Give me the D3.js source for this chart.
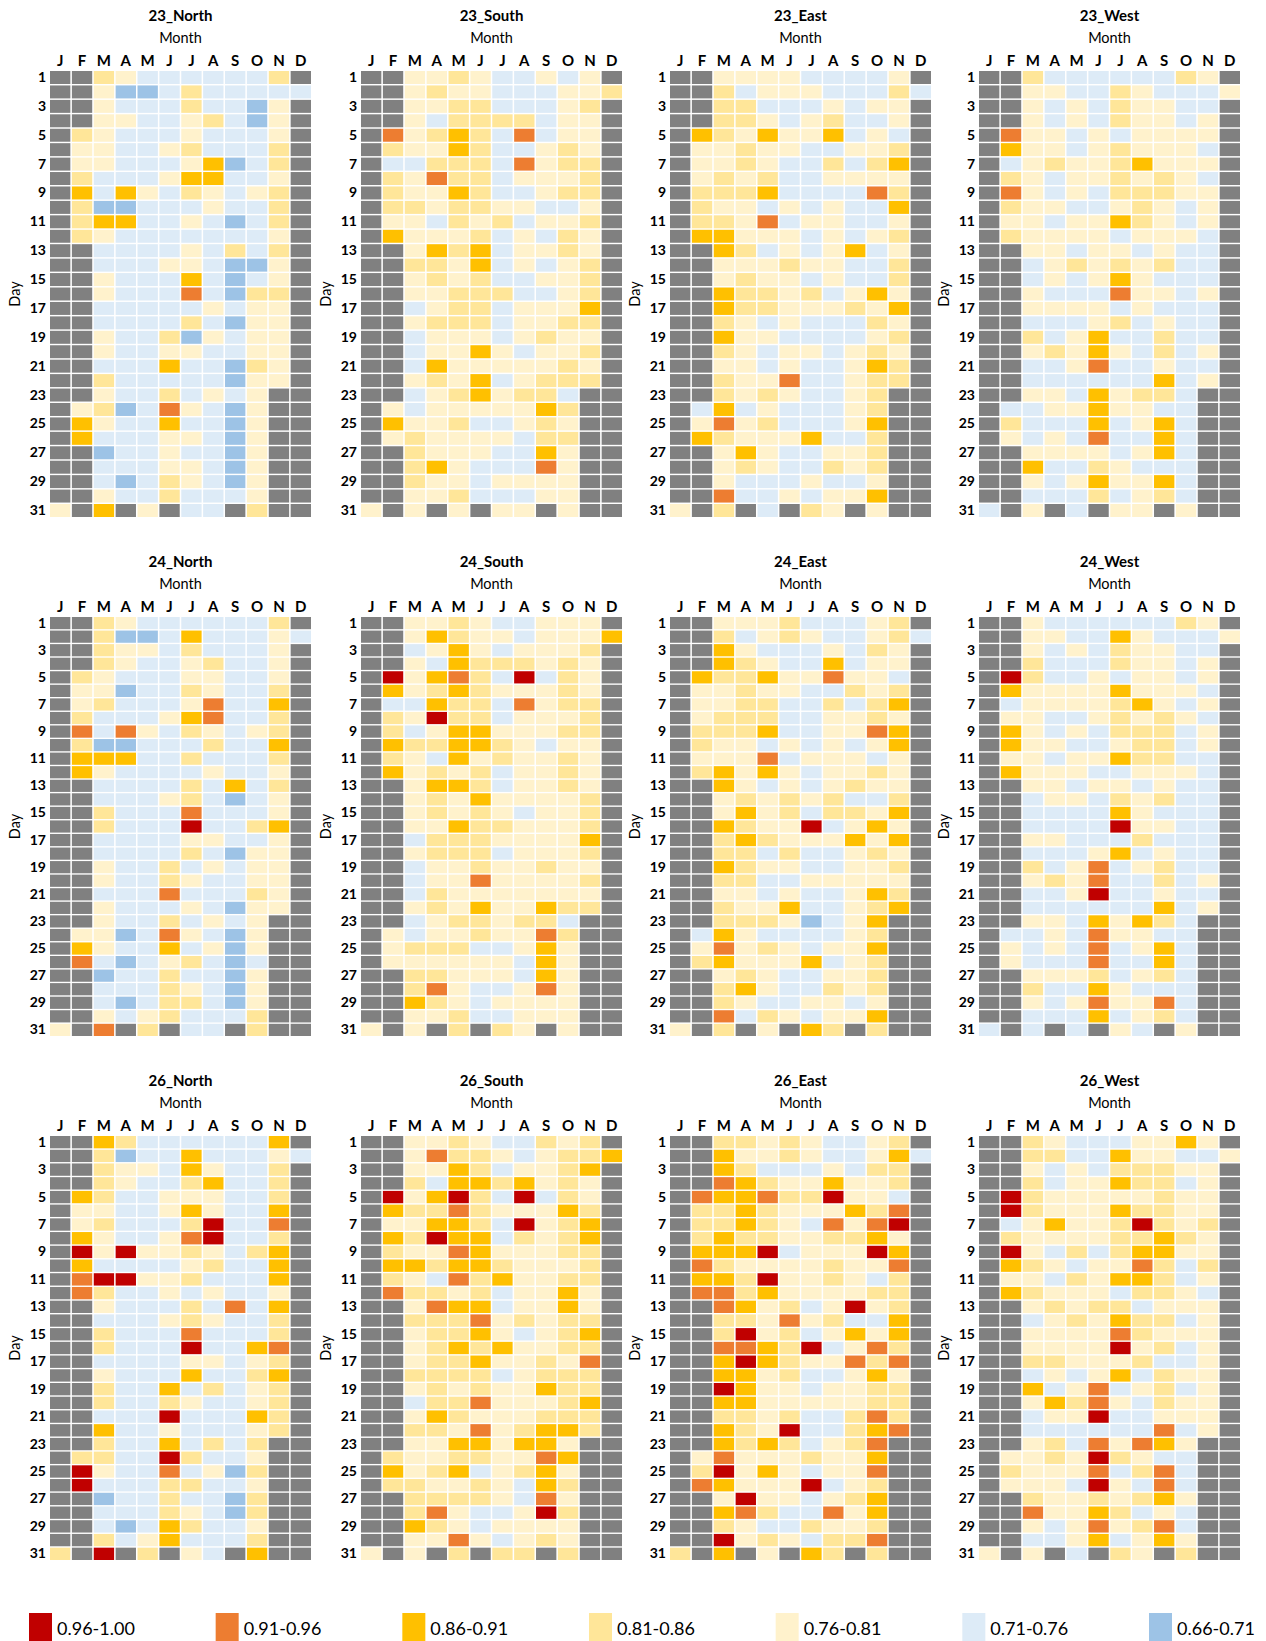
<!DOCTYPE html>
<html>
<head>
<meta charset="utf-8">
<script src="https://cdn.jsdelivr.net/npm/d3@7"></script>
<style>
  body { margin: 0; background: #fff; }
  svg { display: block; font-family: Lato, "Open Sans", sans-serif; }
</style>
</head>
<body>
<script>
// month letters and odd day ticks
const months = ["J", "F", "M", "A", "M", "J", "J", "A", "S", "O", "N", "D"];
const dayTicks = [1, 3, 5, 7, 9, 11, 13, 15, 17, 19, 21, 23, 25, 27, 29, 31];

// legend bins, code 1..7 in the day strings below, 0 = no data
const bins = ["0.96-1.00", "0.91-0.96", "0.86-0.91", "0.81-0.86", "0.76-0.81", "0.71-0.76", "0.66-0.71"];

const panelNames = ["23_North", "23_South", "23_East", "23_West",
                    "24_North", "24_South", "24_East", "24_West",
                    "26_North", "26_South", "26_East", "26_West"];

// one string per day (1..31), one char per month J..D
const north23 = ["004566666640","005776466666","005666466750","005566546750","045666566650","055665466640","055666537640","046665336650","036356456540","047766656640","043366567640","045666666650","006666564640","006665567750","005666367650","005666267440","006666656550","006666467550","005664756550","005665566550","006663667450","004666667550","005664656500","054762567500","035663667500","036665567500","007665667500","006665567500","006764567500","005664666500","503050660400"];
const south23 = ["005545665650","005455666554","005544666540","005644446550","025434626550","045534665450","066444625440","045244655540","045534665440","044544556650","055645465540","035554656450","005343655450","004453656540","005454665540","005544466540","006544655530","005444655440","006555654550","006553565540","006355555450","005453654440","006543544600","056555553400","035546654500","054555564400","004555663500","004356662500","004556555500","005546665500","505050550500"];
const east23 = ["005555666650","004655566646","004466656550","004456546650","034535536560","055455665540","055456646430","054546655550","044436666240","045565656630","044526556650","033555656540","003465653650","005554556640","005455656640","003445465350","003445554530","004565666450","003556666540","004565565450","005565665340","004552665440","004545665400","063656665400","052546665300","034555366400","005356655400","005456645400","005666566500","002665655300","504060450500"];
const west23 = ["004666666450","005566456665","005656455660","005656455650","025565655550","035565455560","065455435550","045655454560","025656444550","045566545650","055655345650","045555655560","005565565660","006545454660","006565356660","005666255650","005555656660","006665465660","004653664660","005453564650","006652665660","006666663650","005563544600","066553556600","046663653600","056562663600","005555653600","003664566600","005653553600","006664654600","605060550500"];
const north24 = ["004566666640","004776366656","004556466650","004566546650","045666556650","055766456640","054666526630","046665326640","026256456540","047766646630","033366466640","035666656650","006666463640","006665467650","004666266650","004666166430","006666556650","006666467550","005664656550","005664566550","006662666450","005666567550","005664656500","055762567500","035663657500","026765467600","007664667500","006664567500","006764467500","005654666400","502040660400"];
const south24 = ["005545665550","005345565553","006535655540","005634445450","015324616450","035434555450","066344625440","045144655540","046533555440","034433456550","045635455450","035454655450","005334655450","005453555540","005454565540","005534455540","006444555530","005444655540","006554554550","006552555540","006455555550","005453553440","006544544600","056554552400","054446653500","055555563500","004455563500","004256652500","003456555500","005546655500","505040450500"];
const east24 = ["005554666540","004654566546","003566656450","003456636550","034435525560","055455664540","055446646430","054446655450","044436655230","045565656530","055526555650","043535655450","003565654550","005454546640","005354644530","003455165350","004345553530","004464665450","003455665540","004466555550","005565665340","004553665430","004445765300","063566665400","052545655300","043555365400","005456655400","004356645400","004566556500","002645655300","504050340400"];
const west24 = ["005666666450","005566356665","005656455660","004666455650","014665655650","035555355560","065555435650","055665454560","035656444650","035566544650","055655344660","035556655560","005565565660","006556454660","006666356660","006666155660","005566646660","006665365660","004652654660","005452664650","006651665660","006666663650","005563534600","066562556600","056562653600","056662663600","005554654600","004663566600","005652552600","006663654600","606060560500"];
const north26 = ["003466666630","004766366656","004556356640","004566436640","034665556640","055665356630","054666416620","035665216640","015155456430","036666546630","021155466630","024665656650","005666462630","006665456640","004666266640","004666166320","006666556540","005666366430","004663646540","004664566540","006661666340","003665666540","004663646400","044661466500","015662657400","016664466500","007664667400","006664567400","006763466500","004653666400","401040560300"];
const south26 = ["005545664540","005244565443","005534655430","004633435450","015314616450","034424555340","055334615430","034133645430","045523555440","033433455540","045624355440","024454655350","005233655350","004442545440","005443565430","005434355440","005443554520","004444654440","005454553440","006442555430","005345554440","004452543340","005533533500","045544552300","035436543500","044554563400","004444562500","004256651400","003456555500","005525654500","505040440400"];
const east26 = ["004454566540","003554566536","003466656440","002345535540","023324415560","044345553420","044345625210","043445544350","033316555130","024555545520","033415545640","022435555440","002354651540","004452546630","004154653530","002234165240","003134552420","003354665350","001355655440","003355555440","004454664240","003451664320","003434654200","052555455300","041535655200","023555165400","005155654300","003246625300","004566455400","001545644200","403050340400"];
const west26 = ["004566655350","004466355665","005656444550","004655344650","014555554550","014555344550","065355414540","045555443450","015646433550","034565524640","055645334650","034555644560","005454465550","006545344650","005555245550","005555154650","004455546650","006565364550","003652654650","005342564550","006551665550","006666662650","005462523500","055451456600","045552642600","055561562600","004554543500","002553465600","005652542600","006653653500","505060450400"];

const panelDays = [north23, south23, east23, west23, north24, south24, east24, west24, north26, south26, east26, west26];

// ---- layout ----
const W = 1266, H = 1641;
const colLefts = [50, 361, 670, 979];
const gridW = 261;
const rowTops = [71, 617, 1136];
const gridHs = [446, 419, 424];

const color = d3.scaleOrdinal()
  .domain(["0", "1", "2", "3", "4", "5", "6", "7"])
  .range(["#808080", "#C00000", "#ED7D31", "#FFC000", "#FFE699", "#FFF2CC", "#DDEBF7", "#9DC3E6"]);

const svg = d3.select("body").append("svg")
  .attr("width", W)
  .attr("height", H);

panelNames.forEach((name, i) => {
  const left = colLefts[i % 4];
  const top = rowTops[Math.floor(i / 4)];
  const gridH = gridHs[Math.floor(i / 4)];

  // flatten the strings into cells
  const cells = [];
  panelDays[i].forEach((row, d) => {
    row.split("").forEach((c, m) => cells.push({ day: d + 1, month: m, code: c }));
  });

  const x = d3.scaleBand().domain(d3.range(12)).range([0, gridW]).paddingInner(0.07);
  const y = d3.scaleBand().domain(d3.range(1, 32)).range([0, gridH]).paddingInner(0.1);

  const g = svg.append("g").attr("transform", `translate(${left},${top})`);

  g.selectAll("rect")
    .data(cells)
    .join("rect")
      .attr("x", d => x(d.month))
      .attr("y", d => y(d.day))
      .attr("width", x.bandwidth())
      .attr("height", y.bandwidth())
      .attr("fill", d => color(d.code));

  // month letters
  const xAxis = g.append("g")
    .call(d3.axisTop(x).tickSize(0).tickPadding(5).tickFormat(m => months[m]));
  xAxis.select(".domain").remove();
  xAxis.selectAll("text")
    .attr("font-family", "Lato, 'Open Sans', sans-serif")
    .attr("font-size", 15)
    .attr("font-weight", "bold")
    .attr("fill", "#000");

  // day labels
  const yAxis = g.append("g")
    .call(d3.axisLeft(y).tickValues(dayTicks).tickSize(0).tickPadding(4));
  yAxis.select(".domain").remove();
  yAxis.selectAll("text")
    .attr("font-family", "Lato, 'Open Sans', sans-serif")
    .attr("font-size", 14)
    .attr("font-weight", "bold")
    .attr("fill", "#000");

  // titles
  g.append("text")
    .attr("x", gridW / 2)
    .attr("y", -50)
    .attr("text-anchor", "middle")
    .attr("font-size", 15)
    .attr("font-weight", "bold")
    .text(name);

  g.append("text")
    .attr("x", gridW / 2)
    .attr("y", -28)
    .attr("text-anchor", "middle")
    .attr("font-size", 14.5)
    .text("Month");

  g.append("text")
    .attr("transform", `translate(-36,${gridH / 2}) rotate(-90)`)
    .attr("text-anchor", "middle")
    .attr("dominant-baseline", "central")
    .attr("font-size", 14.5)
    .text("Day");
});

// legend along the bottom
const lx = d3.scalePoint().domain(bins).range([29, 1149]);
const legend = svg.append("g").attr("transform", "translate(0,1613)");
const item = legend.selectAll("g")
  .data(bins)
  .join("g")
    .attr("transform", d => `translate(${lx(d)},0)`);
item.append("rect")
  .attr("width", 23)
  .attr("height", 28)
  .attr("fill", (d, i) => color(String(i + 1)));
item.append("text")
  .attr("x", 28)
  .attr("y", 22)
  .attr("font-size", 18)
  .text(d => d);
</script>
</body>
</html>
